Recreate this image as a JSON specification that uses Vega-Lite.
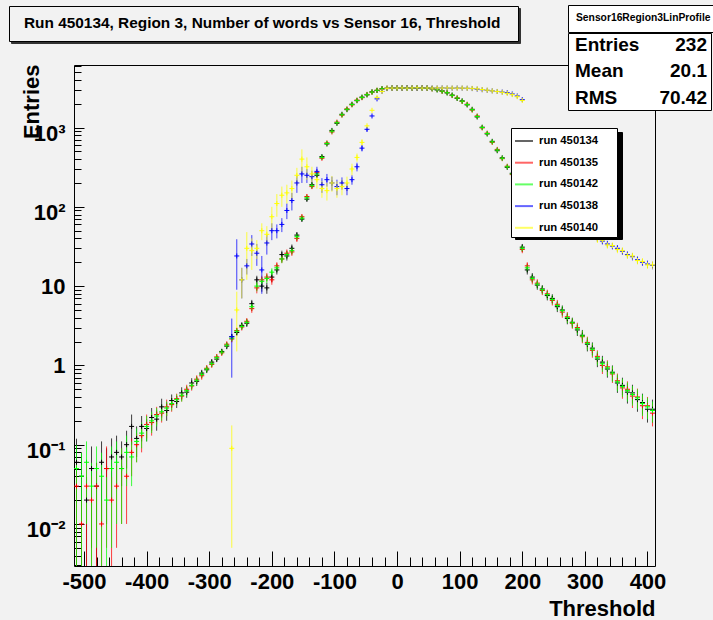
{
"$schema":"https://vega.github.io/schema/vega-lite/v6.json",
"autosize":{"type":"none"},
"padding":{"left":74,"top":65,"right":58,"bottom":54},
"width":581,"height":501,
"background":"#f2f2f2",
"config":{"view":{"stroke":"black","strokeWidth":1},"font":"Liberation Sans"},
"resolve":{
 "axis":{"x":"independent","y":"independent"},
 "scale":{"color":"independent","fill":"independent","shape":"independent","strokeDash":"independent"},
 "legend":{"color":"independent","fill":"independent","shape":"independent","strokeDash":"independent"}},
"datasets":{
"pts":[
{"s":"k","x":-512,"y":0.06,"e":0.059},{"s":"k","x":-504,"y":0.04,"e":0.039},{"s":"k","x":-496,"y":0.02,"e":0.019},{"s":"k","x":-488,"y":0.05,"e":0.045},{"s":"k","x":-480,"y":0.03,"e":0.029},{"s":"k","x":-472,"y":0.06,"e":0.05},{"s":"k","x":-464,"y":0.05,"e":0.04},{"s":"k","x":-456,"y":0.07,"e":0.05},{"s":"k","x":-448,"y":0.08,"e":0.05},{"s":"k","x":-440,"y":0.07,"e":0.04},{"s":"k","x":-432,"y":0.1,"e":0.05},{"s":"k","x":-424,"y":0.17,"e":0.07},
{"s":"k","x":-416,"y":0.12,"e":0.05},{"s":"k","x":-408,"y":0.17,"e":0.06},{"s":"k","x":-400,"y":0.16,"e":0.05},{"s":"k","x":-392,"y":0.22,"e":0.07},{"s":"k","x":-384,"y":0.21,"e":0.06},{"s":"k","x":-376,"y":0.3,"e":0.08},{"s":"k","x":-368,"y":0.27,"e":0.07},{"s":"k","x":-360,"y":0.36,"e":0.07},{"s":"k","x":-352,"y":0.35,"e":0.06},{"s":"k","x":-344,"y":0.45,"e":0.08},{"s":"k","x":-336,"y":0.46,"e":0.07},{"s":"k","x":-328,"y":0.6,"e":0.09},{"s":"k","x":-320,"y":0.63,"e":0.08},{"s":"k","x":-312,"y":0.8,"e":0.08},{"s":"k","x":-304,"y":0.88,"e":0.08},{"s":"k","x":-296,"y":1.1,"e":0.1},{"s":"k","x":-288,"y":1.2,"e":0.1},{"s":"k","x":-280,"y":1.5,"e":0.12},{"s":"k","x":-272,"y":1.75,"e":0.15},{"s":"k","x":-264,"y":2.3,"e":0.2},{"s":"k","x":-256,"y":2.6,"e":0.25},{"s":"k","x":-248,"y":3.2,"e":0.3},{"s":"k","x":-240,"y":3.4,"e":0.35},{"s":"k","x":-232,"y":6,"e":0.7},{"s":"k","x":-224,"y":12,"e":1.5},{"s":"k","x":-216,"y":10,"e":1.5},{"s":"k","x":-208,"y":9.5,"e":1.5},{"s":"k","x":-200,"y":13,"e":1.8},{"s":"k","x":-192,"y":16,"e":2},{"s":"k","x":-184,"y":25,"e":3},{"s":"k","x":-176,"y":24,"e":3},{"s":"k","x":-168,"y":30,"e":3.5},{"s":"k","x":-160,"y":44,"e":4},{"s":"k","x":-152,"y":70,"e":5},{"s":"k","x":-144,"y":125,"e":8},{"s":"k","x":-136,"y":190,"e":12},{"s":"k","x":-128,"y":250,"e":15},{"s":"k","x":-120,"y":430,"e":20},
{"s":"k","x":-112,"y":620},{"s":"k","x":-104,"y":920},{"s":"k","x":-96,"y":1130},{"s":"k","x":-88,"y":1470},{"s":"k","x":-80,"y":1680},{"s":"k","x":-72,"y":1970},{"s":"k","x":-64,"y":2180},{"s":"k","x":-56,"y":2420},{"s":"k","x":-48,"y":2580},{"s":"k","x":-40,"y":2820},{"s":"k","x":-32,"y":2930},{"s":"k","x":-24,"y":3090},{"s":"k","x":-16,"y":3120},{"s":"k","x":-8,"y":3160},{"s":"k","x":0,"y":3140},{"s":"k","x":8,"y":3160},{"s":"k","x":16,"y":3150},{"s":"k","x":24,"y":3140},{"s":"k","x":32,"y":3160},{"s":"k","x":40,"y":3150},{"s":"k","x":48,"y":3130},{"s":"k","x":56,"y":3090},{"s":"k","x":64,"y":2980},{"s":"k","x":72,"y":2900},{"s":"k","x":80,"y":2730},{"s":"k","x":88,"y":2570},{"s":"k","x":96,"y":2330},{"s":"k","x":104,"y":2170},{"s":"k","x":112,"y":1930},{"s":"k","x":120,"y":1700},{"s":"k","x":128,"y":1360},{"s":"k","x":136,"y":1010},{"s":"k","x":144,"y":830},{"s":"k","x":152,"y":670},{"s":"k","x":160,"y":510},{"s":"k","x":168,"y":415},{"s":"k","x":176,"y":315},{"s":"k","x":184,"y":265},{"s":"k","x":192,"y":175},
{"s":"k","x":200,"y":31,"e":3},{"s":"k","x":208,"y":16,"e":2},{"s":"k","x":216,"y":13,"e":1.6},{"s":"k","x":224,"y":10.3,"e":1.3},{"s":"k","x":232,"y":9.2,"e":1.1},{"s":"k","x":240,"y":7.6,"e":1},{"s":"k","x":248,"y":7,"e":0.9},{"s":"k","x":256,"y":5.5,"e":0.8},{"s":"k","x":264,"y":5,"e":0.7},{"s":"k","x":272,"y":3.9,"e":0.6},{"s":"k","x":280,"y":3.5,"e":0.5},{"s":"k","x":288,"y":2.8,"e":0.45},{"s":"k","x":296,"y":2.4,"e":0.4},{"s":"k","x":304,"y":1.85,"e":0.35},{"s":"k","x":312,"y":1.65,"e":0.3},{"s":"k","x":320,"y":1.2,"e":0.25},{"s":"k","x":328,"y":1.1,"e":0.22},{"s":"k","x":336,"y":0.9,"e":0.2},{"s":"k","x":344,"y":0.82,"e":0.18},{"s":"k","x":352,"y":0.6,"e":0.15},{"s":"k","x":360,"y":0.56,"e":0.14},{"s":"k","x":368,"y":0.46,"e":0.13},{"s":"k","x":376,"y":0.45,"e":0.12},{"s":"k","x":384,"y":0.37,"e":0.11},{"s":"k","x":392,"y":0.34,"e":0.1},{"s":"k","x":400,"y":0.28,"e":0.09},{"s":"k","x":408,"y":0.28,"e":0.09},

{"s":"r","x":-512,"y":0.03,"e":0.029},{"s":"r","x":-504,"y":0.01,"e":0.0099},{"s":"r","x":-496,"y":0.03,"e":0.029},{"s":"r","x":-488,"y":0.02,"e":0.0199},{"s":"r","x":-480,"y":0.03,"e":0.029},{"s":"r","x":-472,"y":0.01,"e":0.0099},{"s":"r","x":-464,"y":0.05,"e":0.045},{"s":"r","x":-456,"y":0.02,"e":0.019},{"s":"r","x":-448,"y":0.03,"e":0.025},{"s":"r","x":-440,"y":0.05,"e":0.04},{"s":"r","x":-432,"y":0.04,"e":0.03},{"s":"r","x":-424,"y":0.08,"e":0.04},
{"s":"r","x":-416,"y":0.1,"e":0.04},{"s":"r","x":-408,"y":0.13,"e":0.05},{"s":"r","x":-400,"y":0.18,"e":0.06},{"s":"r","x":-392,"y":0.19,"e":0.06},{"s":"r","x":-384,"y":0.24,"e":0.06},{"s":"r","x":-376,"y":0.25,"e":0.06},{"s":"r","x":-368,"y":0.3,"e":0.07},{"s":"r","x":-360,"y":0.32,"e":0.06},{"s":"r","x":-352,"y":0.38,"e":0.06},{"s":"r","x":-344,"y":0.41,"e":0.06},{"s":"r","x":-336,"y":0.5,"e":0.07},{"s":"r","x":-328,"y":0.55,"e":0.07},{"s":"r","x":-320,"y":0.67,"e":0.08},{"s":"r","x":-312,"y":0.74,"e":0.08},{"s":"r","x":-304,"y":0.92,"e":0.09},{"s":"r","x":-296,"y":1.03,"e":0.1},{"s":"r","x":-288,"y":1.28,"e":0.11},{"s":"r","x":-280,"y":1.44,"e":0.12},{"s":"r","x":-272,"y":1.85,"e":0.15},{"s":"r","x":-264,"y":2.15,"e":0.2},{"s":"r","x":-256,"y":2.75,"e":0.25},{"s":"r","x":-248,"y":3.05,"e":0.3},{"s":"r","x":-240,"y":3.6,"e":0.35},{"s":"r","x":-232,"y":5.2,"e":0.6},{"s":"r","x":-224,"y":9.5,"e":1.4},{"s":"r","x":-216,"y":12,"e":1.5},{"s":"r","x":-208,"y":13,"e":1.6},{"s":"r","x":-200,"y":12,"e":1.6},{"s":"r","x":-192,"y":18,"e":2},{"s":"r","x":-184,"y":22,"e":2.5},{"s":"r","x":-176,"y":26,"e":3},{"s":"r","x":-168,"y":27,"e":3},{"s":"r","x":-160,"y":40,"e":4},{"s":"r","x":-152,"y":75,"e":5},{"s":"r","x":-144,"y":135,"e":8},{"s":"r","x":-136,"y":180,"e":11},{"s":"r","x":-128,"y":270,"e":15},{"s":"r","x":-120,"y":410,"e":20},
{"s":"r","x":-112,"y":640},{"s":"r","x":-104,"y":880},{"s":"r","x":-96,"y":1170},{"s":"r","x":-88,"y":1430},{"s":"r","x":-80,"y":1720},{"s":"r","x":-72,"y":1930},{"s":"r","x":-64,"y":2220},{"s":"r","x":-56,"y":2380},{"s":"r","x":-48,"y":2620},{"s":"r","x":-40,"y":2790},{"s":"r","x":-32,"y":2960},{"s":"r","x":-24,"y":3060},{"s":"r","x":-16,"y":3140},{"s":"r","x":-8,"y":3140},{"s":"r","x":0,"y":3160},{"s":"r","x":8,"y":3140},{"s":"r","x":16,"y":3160},{"s":"r","x":24,"y":3150},{"s":"r","x":32,"y":3140},{"s":"r","x":40,"y":3160},{"s":"r","x":48,"y":3150},{"s":"r","x":56,"y":3070},{"s":"r","x":64,"y":3020},{"s":"r","x":72,"y":2860},{"s":"r","x":80,"y":2770},{"s":"r","x":88,"y":2530},{"s":"r","x":96,"y":2370},{"s":"r","x":104,"y":2130},{"s":"r","x":112,"y":1970},{"s":"r","x":120,"y":1660},{"s":"r","x":128,"y":1400},{"s":"r","x":136,"y":990},{"s":"r","x":144,"y":850},{"s":"r","x":152,"y":650},{"s":"r","x":160,"y":530},{"s":"r","x":168,"y":405},{"s":"r","x":176,"y":325},{"s":"r","x":184,"y":255},{"s":"r","x":192,"y":185},
{"s":"r","x":200,"y":29,"e":3},{"s":"r","x":208,"y":18,"e":2},{"s":"r","x":216,"y":12,"e":1.5},{"s":"r","x":224,"y":10.9,"e":1.3},{"s":"r","x":232,"y":8.8,"e":1.1},{"s":"r","x":240,"y":8,"e":1},{"s":"r","x":248,"y":6.6,"e":0.9},{"s":"r","x":256,"y":5.9,"e":0.8},{"s":"r","x":264,"y":4.7,"e":0.7},{"s":"r","x":272,"y":4.1,"e":0.6},{"s":"r","x":280,"y":3.4,"e":0.5},{"s":"r","x":288,"y":3,"e":0.45},{"s":"r","x":296,"y":2.3,"e":0.4},{"s":"r","x":304,"y":1.95,"e":0.35},{"s":"r","x":312,"y":1.55,"e":0.3},{"s":"r","x":320,"y":1.3,"e":0.25},{"s":"r","x":328,"y":1.0,"e":0.22},{"s":"r","x":336,"y":0.96,"e":0.2},{"s":"r","x":344,"y":0.78,"e":0.18},{"s":"r","x":352,"y":0.64,"e":0.15},{"s":"r","x":360,"y":0.52,"e":0.14},{"s":"r","x":368,"y":0.5,"e":0.13},{"s":"r","x":376,"y":0.41,"e":0.12},{"s":"r","x":384,"y":0.4,"e":0.11},{"s":"r","x":392,"y":0.31,"e":0.1},{"s":"r","x":400,"y":0.31,"e":0.09},{"s":"r","x":408,"y":0.25,"e":0.08},

{"s":"g","x":-512,"y":0.05,"e":0.049},{"s":"g","x":-504,"y":0.04,"e":0.039},{"s":"g","x":-496,"y":0.06,"e":0.05},{"s":"g","x":-488,"y":0.03,"e":0.029},{"s":"g","x":-480,"y":0.05,"e":0.045},{"s":"g","x":-472,"y":0.04,"e":0.039},{"s":"g","x":-464,"y":0.02,"e":0.019},{"s":"g","x":-456,"y":0.05,"e":0.045},{"s":"g","x":-448,"y":0.06,"e":0.05},{"s":"g","x":-440,"y":0.05,"e":0.04},{"s":"g","x":-432,"y":0.08,"e":0.05},{"s":"g","x":-424,"y":0.07,"e":0.04},
{"s":"g","x":-416,"y":0.11,"e":0.05},{"s":"g","x":-408,"y":0.14,"e":0.05},{"s":"g","x":-400,"y":0.17,"e":0.06},{"s":"g","x":-392,"y":0.2,"e":0.06},{"s":"g","x":-384,"y":0.23,"e":0.06},{"s":"g","x":-376,"y":0.26,"e":0.06},{"s":"g","x":-368,"y":0.29,"e":0.06},{"s":"g","x":-360,"y":0.33,"e":0.06},{"s":"g","x":-352,"y":0.37,"e":0.06},{"s":"g","x":-344,"y":0.42,"e":0.07},{"s":"g","x":-336,"y":0.48,"e":0.07},{"s":"g","x":-328,"y":0.56,"e":0.07},{"s":"g","x":-320,"y":0.65,"e":0.08},{"s":"g","x":-312,"y":0.77,"e":0.08},{"s":"g","x":-304,"y":0.9,"e":0.09},{"s":"g","x":-296,"y":1.05,"e":0.1},{"s":"g","x":-288,"y":1.25,"e":0.11},{"s":"g","x":-280,"y":1.47,"e":0.12},{"s":"g","x":-272,"y":1.8,"e":0.15},{"s":"g","x":-264,"y":2.2,"e":0.2},{"s":"g","x":-256,"y":2.7,"e":0.25},{"s":"g","x":-248,"y":3.1,"e":0.3},{"s":"g","x":-240,"y":3.5,"e":0.35},{"s":"g","x":-232,"y":5.5,"e":0.6},{"s":"g","x":-224,"y":10,"e":1.4},{"s":"g","x":-216,"y":11.5,"e":1.5},{"s":"g","x":-208,"y":12.5,"e":1.6},{"s":"g","x":-200,"y":15,"e":1.8},{"s":"g","x":-192,"y":17,"e":2},{"s":"g","x":-184,"y":22,"e":2.5},{"s":"g","x":-176,"y":25,"e":3},{"s":"g","x":-168,"y":28,"e":3},{"s":"g","x":-160,"y":42,"e":4},{"s":"g","x":-152,"y":72,"e":5},{"s":"g","x":-144,"y":130,"e":8},{"s":"g","x":-136,"y":185,"e":11},{"s":"g","x":-128,"y":260,"e":15},{"s":"g","x":-120,"y":420,"e":20},
{"s":"g","x":-112,"y":630},{"s":"g","x":-104,"y":900},{"s":"g","x":-96,"y":1150},{"s":"g","x":-88,"y":1450},{"s":"g","x":-80,"y":1700},{"s":"g","x":-72,"y":1950},{"s":"g","x":-64,"y":2200},{"s":"g","x":-56,"y":2400},{"s":"g","x":-48,"y":2600},{"s":"g","x":-40,"y":2800},{"s":"g","x":-32,"y":2950},{"s":"g","x":-24,"y":3080},{"s":"g","x":-16,"y":3130},{"s":"g","x":-8,"y":3150},{"s":"g","x":0,"y":3150},{"s":"g","x":8,"y":3150},{"s":"g","x":16,"y":3150},{"s":"g","x":24,"y":3150},{"s":"g","x":32,"y":3150},{"s":"g","x":40,"y":3150},{"s":"g","x":48,"y":3150},{"s":"g","x":56,"y":3080},{"s":"g","x":64,"y":3000},{"s":"g","x":72,"y":2880},{"s":"g","x":80,"y":2750},{"s":"g","x":88,"y":2550},{"s":"g","x":96,"y":2350},{"s":"g","x":104,"y":2150},{"s":"g","x":112,"y":1950},{"s":"g","x":120,"y":1680},{"s":"g","x":128,"y":1380},{"s":"g","x":136,"y":1000},{"s":"g","x":144,"y":840},{"s":"g","x":152,"y":660},{"s":"g","x":160,"y":520},{"s":"g","x":168,"y":410},{"s":"g","x":176,"y":320},{"s":"g","x":184,"y":260},{"s":"g","x":192,"y":180},
{"s":"g","x":200,"y":30,"e":3},{"s":"g","x":208,"y":17,"e":2},{"s":"g","x":216,"y":12.5,"e":1.5},{"s":"g","x":224,"y":10.6,"e":1.3},{"s":"g","x":232,"y":9,"e":1.1},{"s":"g","x":240,"y":7.8,"e":1},{"s":"g","x":248,"y":6.8,"e":0.9},{"s":"g","x":256,"y":5.7,"e":0.8},{"s":"g","x":264,"y":4.9,"e":0.7},{"s":"g","x":272,"y":4,"e":0.6},{"s":"g","x":280,"y":3.45,"e":0.5},{"s":"g","x":288,"y":2.9,"e":0.45},{"s":"g","x":296,"y":2.35,"e":0.4},{"s":"g","x":304,"y":1.9,"e":0.35},{"s":"g","x":312,"y":1.6,"e":0.3},{"s":"g","x":320,"y":1.25,"e":0.25},{"s":"g","x":328,"y":1.05,"e":0.22},{"s":"g","x":336,"y":0.93,"e":0.2},{"s":"g","x":344,"y":0.8,"e":0.18},{"s":"g","x":352,"y":0.62,"e":0.15},{"s":"g","x":360,"y":0.54,"e":0.14},{"s":"g","x":368,"y":0.48,"e":0.13},{"s":"g","x":376,"y":0.43,"e":0.12},{"s":"g","x":384,"y":0.39,"e":0.11},{"s":"g","x":392,"y":0.33,"e":0.1},{"s":"g","x":400,"y":0.3,"e":0.09},{"s":"g","x":408,"y":0.27,"e":0.08},

{"s":"b","x":-264,"y":2.3,"e":1.6},{"s":"b","x":-256,"y":24,"e":15},{"s":"b","x":-248,"y":12,"e":5},{"s":"b","x":-240,"y":18,"e":4},{"s":"b","x":-232,"y":34,"e":10},{"s":"b","x":-224,"y":26,"e":8},{"s":"b","x":-216,"y":16,"e":8},{"s":"b","x":-208,"y":35,"e":10},{"s":"b","x":-200,"y":50,"e":12},{"s":"b","x":-192,"y":50,"e":10},{"s":"b","x":-184,"y":60,"e":12},{"s":"b","x":-176,"y":90,"e":20},{"s":"b","x":-168,"y":120,"e":30},{"s":"b","x":-160,"y":200,"e":50},{"s":"b","x":-152,"y":260,"e":60},{"s":"b","x":-144,"y":250,"e":50},{"s":"b","x":-136,"y":240,"e":45},{"s":"b","x":-128,"y":280,"e":40},{"s":"b","x":-120,"y":190,"e":40},{"s":"b","x":-112,"y":220,"e":40},{"s":"b","x":-104,"y":200,"e":40},{"s":"b","x":-96,"y":180,"e":40},{"s":"b","x":-88,"y":200,"e":35},{"s":"b","x":-80,"y":170,"e":30},{"s":"b","x":-72,"y":220,"e":30},{"s":"b","x":-64,"y":320,"e":40},{"s":"b","x":-56,"y":550,"e":50},{"s":"b","x":-48,"y":950,"e":60},
{"s":"b","x":-40,"y":1400},{"s":"b","x":-32,"y":2300},{"s":"b","x":-24,"y":2850},{"s":"b","x":-16,"y":3100},{"s":"b","x":-8,"y":3150},{"s":"b","x":0,"y":3160},{"s":"b","x":8,"y":3150},{"s":"b","x":16,"y":3170},{"s":"b","x":24,"y":3160},{"s":"b","x":32,"y":3150},{"s":"b","x":40,"y":3160},{"s":"b","x":48,"y":3170},{"s":"b","x":56,"y":3160},{"s":"b","x":64,"y":3150},{"s":"b","x":72,"y":3160},{"s":"b","x":80,"y":3150},{"s":"b","x":88,"y":3140},{"s":"b","x":96,"y":3150},{"s":"b","x":104,"y":3140},{"s":"b","x":112,"y":3130},{"s":"b","x":120,"y":3100},{"s":"b","x":128,"y":3050},{"s":"b","x":136,"y":3000},{"s":"b","x":144,"y":2950},{"s":"b","x":152,"y":2900},{"s":"b","x":160,"y":2850},{"s":"b","x":168,"y":2800},{"s":"b","x":176,"y":2750},{"s":"b","x":184,"y":2650},{"s":"b","x":192,"y":2500},{"s":"b","x":200,"y":2250},
{"s":"b","x":208,"y":450,"e":40},{"s":"b","x":216,"y":260,"e":25},{"s":"b","x":224,"y":190,"e":18},{"s":"b","x":232,"y":150,"e":14},{"s":"b","x":240,"y":125,"e":12},{"s":"b","x":248,"y":108,"e":10},{"s":"b","x":256,"y":95,"e":9},{"s":"b","x":264,"y":85,"e":8},{"s":"b","x":272,"y":76,"e":7},{"s":"b","x":280,"y":68,"e":6},{"s":"b","x":288,"y":62,"e":6},{"s":"b","x":296,"y":56,"e":5},{"s":"b","x":304,"y":50,"e":5},{"s":"b","x":312,"y":45,"e":4},{"s":"b","x":320,"y":40,"e":4},{"s":"b","x":328,"y":37,"e":3.5},{"s":"b","x":336,"y":34,"e":3.3},{"s":"b","x":344,"y":32,"e":3},{"s":"b","x":352,"y":30,"e":3},{"s":"b","x":360,"y":27.5,"e":2.8},{"s":"b","x":368,"y":25,"e":2.5},{"s":"b","x":376,"y":23.5,"e":2.4},{"s":"b","x":384,"y":21.5,"e":2.2},{"s":"b","x":392,"y":20,"e":2},{"s":"b","x":400,"y":19,"e":2},{"s":"b","x":408,"y":18.3,"e":2},

{"s":"y","x":-264,"y":0.09,"e":0.085},{"s":"y","x":-256,"y":5,"e":3.5},{"s":"y","x":-248,"y":12,"e":5},{"s":"y","x":-240,"y":30,"e":18},{"s":"y","x":-232,"y":28,"e":12},{"s":"y","x":-224,"y":30,"e":8},{"s":"y","x":-216,"y":50,"e":12},{"s":"y","x":-208,"y":45,"e":12},{"s":"y","x":-200,"y":75,"e":25},{"s":"y","x":-192,"y":110,"e":35},{"s":"y","x":-184,"y":140,"e":40},{"s":"y","x":-176,"y":150,"e":40},{"s":"y","x":-168,"y":170,"e":45},{"s":"y","x":-160,"y":250,"e":60},{"s":"y","x":-152,"y":400,"e":130},{"s":"y","x":-144,"y":320,"e":100},{"s":"y","x":-136,"y":260,"e":60},{"s":"y","x":-128,"y":220,"e":50},{"s":"y","x":-120,"y":170,"e":40},{"s":"y","x":-112,"y":160,"e":40},{"s":"y","x":-104,"y":200,"e":45},{"s":"y","x":-96,"y":170,"e":40},{"s":"y","x":-88,"y":180,"e":40},{"s":"y","x":-80,"y":200,"e":40},{"s":"y","x":-72,"y":300,"e":50},{"s":"y","x":-64,"y":420,"e":50},{"s":"y","x":-56,"y":650,"e":60},
{"s":"y","x":-48,"y":1050},{"s":"y","x":-40,"y":1650},{"s":"y","x":-32,"y":2400},{"s":"y","x":-24,"y":2850},{"s":"y","x":-16,"y":3120},{"s":"y","x":-8,"y":3150},{"s":"y","x":0,"y":3150},{"s":"y","x":8,"y":3160},{"s":"y","x":16,"y":3150},{"s":"y","x":24,"y":3160},{"s":"y","x":32,"y":3170},{"s":"y","x":40,"y":3150},{"s":"y","x":48,"y":3160},{"s":"y","x":56,"y":3150},{"s":"y","x":64,"y":3160},{"s":"y","x":72,"y":3150},{"s":"y","x":80,"y":3160},{"s":"y","x":88,"y":3150},{"s":"y","x":96,"y":3140},{"s":"y","x":104,"y":3150},{"s":"y","x":112,"y":3130},{"s":"y","x":120,"y":3120},{"s":"y","x":128,"y":3080},{"s":"y","x":136,"y":3020},{"s":"y","x":144,"y":2960},{"s":"y","x":152,"y":2900},{"s":"y","x":160,"y":2850},{"s":"y","x":168,"y":2780},{"s":"y","x":176,"y":2700},{"s":"y","x":184,"y":2600},{"s":"y","x":192,"y":2450},{"s":"y","x":200,"y":2200},
{"s":"y","x":208,"y":470,"e":40},{"s":"y","x":216,"y":250,"e":25},{"s":"y","x":224,"y":185,"e":18},{"s":"y","x":232,"y":155,"e":14},{"s":"y","x":240,"y":120,"e":12},{"s":"y","x":248,"y":110,"e":10},{"s":"y","x":256,"y":92,"e":9},{"s":"y","x":264,"y":86,"e":8},{"s":"y","x":272,"y":74,"e":7},{"s":"y","x":280,"y":69,"e":6},{"s":"y","x":288,"y":60,"e":6},{"s":"y","x":296,"y":57,"e":5},{"s":"y","x":304,"y":49,"e":5},{"s":"y","x":312,"y":46,"e":4},{"s":"y","x":320,"y":39,"e":4},{"s":"y","x":328,"y":38,"e":3.5},{"s":"y","x":336,"y":33,"e":3.3},{"s":"y","x":344,"y":32.5,"e":3},{"s":"y","x":352,"y":29,"e":3},{"s":"y","x":360,"y":28,"e":2.8},{"s":"y","x":368,"y":24.5,"e":2.5},{"s":"y","x":376,"y":24,"e":2.4},{"s":"y","x":384,"y":21,"e":2.2},{"s":"y","x":392,"y":20.5,"e":2},{"s":"y","x":400,"y":18.5,"e":2},{"s":"y","x":408,"y":18.5,"e":2}
],
"sh1":[{"q":"legend shadow"}],
"sh2":[{"u":"title shadow"}],
"ttl":[{"t":"Run 450134, Region 3, Number of words vs Sensor 16, Threshold"}],
"hdr":[{"h":"Sensor16Region3LinProfile"}],
"stats":[{"n":"Entries","v":"232"},{"n":"Mean","v":"20.1"},{"n":"RMS","v":"70.42"}]
},
"layer":[
{"data":{"name":"pts"},
 "transform":[{"filter":"isValid(datum.e)"}],
 "mark":{"type":"errorbar","ticks":false,"rule":{"strokeWidth":1,"opacity":0.75}},
 "encoding":{
  "x":{"field":"x","type":"quantitative","scale":{"domain":[-516,412],"nice":false,"zero":false},
   "axis":{"orient":"bottom","title":null,"labels":false,"domain":false,"grid":false,"values":[-500,-480,-460,-440,-420,-400,-380,-360,-340,-320,-300,-280,-260,-240,-220,-200,-180,-160,-140,-120,-100,-80,-60,-40,-20,0,20,40,60,80,100,120,140,160,180,200,220,240,260,280,300,320,340,360,380,400],"tickSize":-9,"tickColor":"black","tickWidth":1}},
  "y":{"field":"y","type":"quantitative","scale":{"type":"log","domain":[0.00295,6150],"nice":false,"clamp":true},
   "axis":{"orient":"left","title":null,"labels":false,"domain":false,"grid":false,"values":[0.003,0.004,0.005,0.006,0.007,0.008,0.009,0.02,0.03,0.04,0.05,0.06,0.07,0.08,0.09,0.2,0.3,0.4,0.5,0.6,0.7,0.8,0.9,2,3,4,5,6,7,8,9,20,30,40,50,60,70,80,90,200,300,400,500,600,700,800,900,2000,3000,4000,5000,6000],"tickSize":-7,"tickColor":"black","tickWidth":1}},
  "yError":{"field":"e"},
  "color":{"field":"s","type":"nominal","scale":{"domain":["k","r","g","b","y"],"range":["#000000","#ff0000","#00ff00","#0000ff","#ffff00"]},
   "legend":{"orient":"none","legendX":437,"legendY":63,"zindex":3,"title":"MM","titleOrient":"right","titleFontSize":8,"titlePadding":2,"titleColor":"white",
    "symbolType":"stroke","symbolSize":324,"symbolStrokeWidth":2,"symbolOpacity":0.6,
    "labelExpr":"datum.label == 'k' ? 'run 450134' : datum.label == 'r' ? 'run 450135' : datum.label == 'g' ? 'run 450142' : datum.label == 'b' ? 'run 450138' : 'run 450140'",
    "labelFont":"Liberation Sans","labelFontSize":11.3,"labelFontWeight":"bold","labelColor":"black","labelOffset":5,"labelLimit":0,
    "rowPadding":5.7,"padding":3,"fillColor":"white","strokeColor":"black"}}
 }},
{"data":{"name":"pts"},
 "mark":{"type":"point","shape":"M-1,0H1M0,-1V1","size":25,"filled":false,"strokeWidth":1,"opacity":1},
 "encoding":{
  "x":{"field":"x","type":"quantitative","scale":{"domain":[-516,412],"nice":false,"zero":false},
   "axis":{"orient":"bottom","values":[-500,-400,-300,-200,-100,0,100,200,300,400],
    "labelExpr":"'' + datum.value",
    "domain":false,"grid":false,"tickColor":"black","tickWidth":1,"tickSize":-15,
    "labelPadding":20,"labelFlush":false,"labelOverlap":false,"labelBaseline":"top",
    "labelFont":"Liberation Sans","labelFontSize":22,"labelFontWeight":"bold","labelColor":"black",
    "title":"Threshold","titleX":581,"titleY":49,"titleAlign":"right","titleBaseline":"alphabetic","titleAngle":0,
    "titleFont":"Liberation Sans","titleFontSize":22,"titleFontWeight":"bold","titleColor":"black"}},
  "y":{"field":"y","type":"quantitative","scale":{"type":"log","domain":[0.00295,6150],"nice":false,"clamp":true},
   "axis":{"orient":"left","values":[0.01,0.1,1,10,100,1000],
    "labelExpr":"datum.value == 1000 ? '10³' : datum.value == 100 ? '10²' : datum.value == 10 ? '10' : datum.value == 1 ? '1' : datum.value == 0.1 ? '10⁻¹' : '10⁻²'",
    "domain":false,"grid":false,"tickColor":"black","tickWidth":1,"tickSize":-10,
    "labelOffset":{"condition":{"test":"datum.value == 1000 || datum.value == 100 || datum.value == 0.1 || datum.value == 0.01","value":6},"value":0},
    "labelPadding":19,"labelFlush":false,"labelOverlap":false,"labelAlign":"right","labelBaseline":"middle",
    "labelFont":"Liberation Sans","labelFontSize":22,"labelFontWeight":"bold","labelColor":"black",
    "title":"Entries","titleX":-36,"titleY":-1,"titleAlign":"right","titleBaseline":"alphabetic","titleAngle":270,
    "titleFont":"Liberation Sans","titleFontSize":22,"titleFontWeight":"bold","titleColor":"black"}},
  "color":{"field":"s","type":"nominal","scale":{"domain":["k","r","g","b","y"],"range":["#000000","#ff0000","#00ff00","#0000ff","#ffff00"]},"legend":null}
 }},
{"data":{"name":"sh1"},
 "mark":{"type":"point","opacity":0},
 "encoding":{
  "shape":{"field":"q","type":"nominal",
   "legend":{"orient":"none","legendX":441,"legendY":67,"zindex":2,"title":null,"padding":53,"labelOffset":0,"labelExpr":"''",
    "labelFontSize":1,"labelColor":"black","symbolSize":0,"symbolOpacity":0,"symbolStrokeWidth":0,
    "fillColor":"black","strokeColor":"black"}}}},
{"data":{"name":"sh2"},
 "mark":{"type":"point","opacity":0},
 "encoding":{
  "shape":{"field":"u","type":"nominal",
   "legend":{"orient":"none","legendX":-63,"legendY":-57,"zindex":1,"title":null,"padding":17,"labelOffset":474,"labelExpr":"''",
    "labelFontSize":1,"labelColor":"#333333","symbolSize":0,"symbolOpacity":0,"symbolStrokeWidth":0,
    "fillColor":"#333333","strokeColor":"#333333"}}}},
{"data":{"name":"ttl"},
 "mark":{"type":"point","opacity":0},
 "encoding":{
  "shape":{"field":"t","type":"nominal",
  "legend":{"orient":"none","legendX":-65,"legendY":-59,"zindex":3,"title":"M","titleOrient":"right","titleFontSize":6,"titlePadding":4,"titleColor":"#f2f2f2",
   "padding":9,"labelOffset":-9.4,"symbolSize":0,"symbolOpacity":0,"symbolStrokeWidth":0,
   "labelFont":"Liberation Sans","labelFontSize":15.4,"labelFontWeight":"bold","labelColor":"black","labelLimit":0,
   "fillColor":"#f2f2f2","strokeColor":"black"}}}},
{"data":{"name":"hdr"},
 "mark":{"type":"point","opacity":0},
 "encoding":{"fill":{"field":"h","type":"nominal",
  "legend":{"orient":"none","legendX":494,"legendY":-60,"zindex":3,"title":null,"padding":8,"labelOffset":-10.3,"symbolSize":0,"symbolOpacity":0,"symbolStrokeWidth":0,
   "labelFont":"Liberation Sans","labelFontSize":10.3,"labelFontWeight":"bold","labelColor":"black","labelLimit":0,
   "fillColor":"white","strokeColor":"black"}}}},
{"data":{"name":"stats"},
 "mark":{"type":"point","opacity":0},
 "encoding":{
  "fill":{"field":"n","type":"nominal","scale":{"domain":["Entries","Mean","RMS"]},
   "legend":{"orient":"none","legendX":494,"legendY":-32,"zindex":3,"title":"M","titleOrient":"right","titleFontSize":1,"titlePadding":69,"titleColor":"white",
    "padding":2,"labelOffset":-14,"symbolSize":0,"symbolOpacity":0,"symbolStrokeWidth":0,
    "labelFont":"Liberation Sans","labelFontSize":19,"labelFontWeight":"bold","labelColor":"black","labelLimit":0,"rowPadding":6.75,
    "fillColor":"white","strokeColor":"black"}},
  "strokeDash":{"field":"v","type":"nominal","scale":{"domain":["232","20.1","70.42"]},
   "legend":{"orient":"none","legendX":631,"legendY":-32,"zindex":4,"title":null,"padding":2,"labelOffset":-19,"symbolSize":0,"symbolOpacity":0,"symbolStrokeWidth":0,
    "labelFont":"Liberation Sans","labelFontSize":19,"labelFontWeight":"bold","labelColor":"black","labelLimit":0,"rowPadding":6.75,"labelAlign":"right"}}
 }}
]
}
